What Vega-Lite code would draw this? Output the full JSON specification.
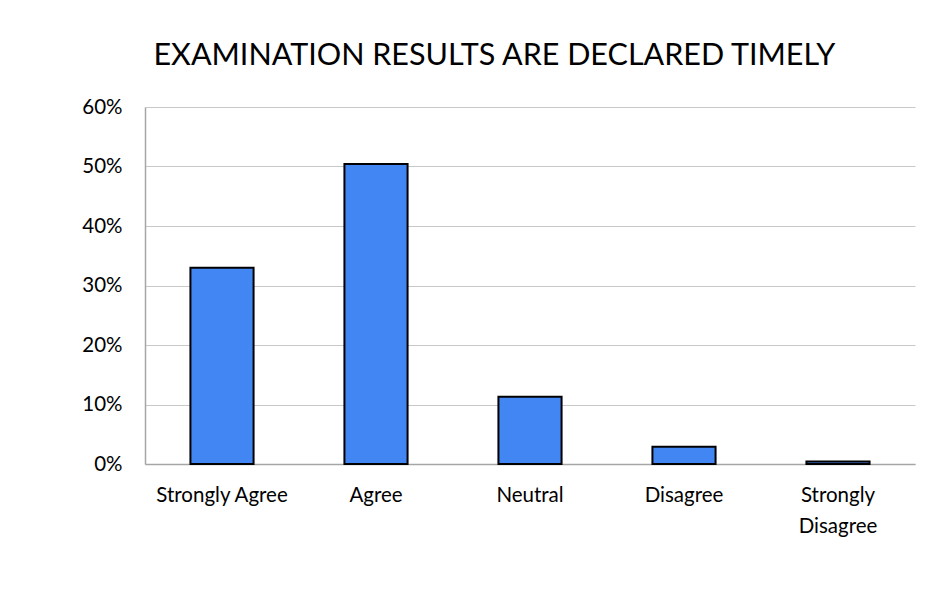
{
  "$schema": "https://vega.github.io/schema/vega-lite/v6.json",
  "width": 770,
  "height": 357,
  "autosize": {"type": "none"},
  "padding": {"left": 145, "top": 107, "right": 33, "bottom": 144},
  "background": "white",
  "title": {
    "text": "EXAMINATION RESULTS ARE DECLARED TIMELY",
    "font": "Lato",
    "fontSize": 30.5,
    "fontWeight": "normal",
    "color": "#000000",
    "anchor": "middle",
    "frame": "bounds",
    "dx": -4,
    "offset": 26
  },
  "data": {
    "values": [
      {"response": "Strongly Agree", "share": 0.33},
      {"response": "Agree", "share": 0.504},
      {"response": "Neutral", "share": 0.113},
      {"response": "Disagree", "share": 0.029},
      {"response": "Strongly Disagree", "share": 0.004}
    ]
  },
  "mark": {"type": "bar", "fill": "#4286f4", "stroke": "#000000", "strokeWidth": 2},
  "encoding": {
    "x": {
      "field": "response",
      "type": "nominal",
      "sort": null,
      "scale": {"paddingInner": 0.59, "paddingOuter": 0.295},
      "axis": {
        "title": null,
        "labelAngle": 0,
        "labelFont": "Lato",
        "labelFontSize": 20.5,
        "labelColor": "#000000",
        "labelPadding": 21,
        "labelLineHeight": 31,
        "ticks": false,
        "domainColor": "#a6a6a6",
        "domainWidth": 1.5,
        "labelExpr": "datum.value == 'Strongly Disagree' ? ['Strongly', 'Disagree'] : datum.value"
      }
    },
    "y": {
      "field": "share",
      "type": "quantitative",
      "scale": {"domain": [0, 0.6]},
      "axis": {
        "title": null,
        "format": ".0%",
        "values": [0, 0.1, 0.2, 0.3, 0.4, 0.5, 0.6],
        "labelFont": "Lato",
        "labelFontSize": 20.5,
        "labelColor": "#000000",
        "labelPadding": 23,
        "ticks": false,
        "domainColor": "#a6a6a6",
        "domainWidth": 1.5,
        "gridColor": "#c8c8c8",
        "gridWidth": 1
      }
    }
  },
  "config": {"view": {"stroke": null}}
}
